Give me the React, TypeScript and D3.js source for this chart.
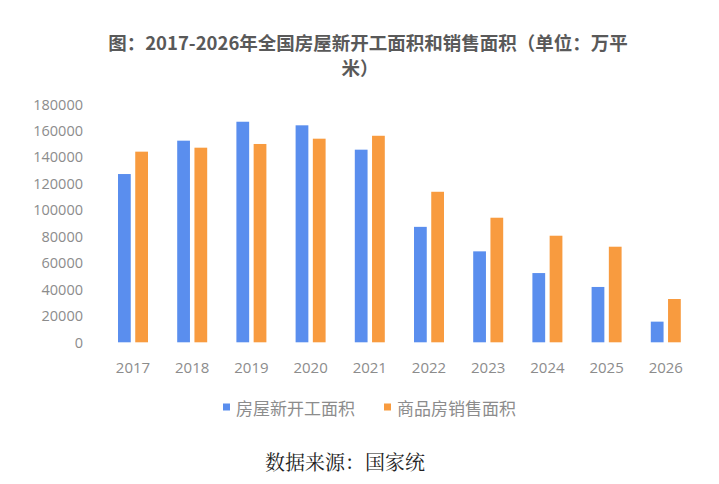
import * as d3 from 'd3';

const years = ['2017', '2018', '2019', '2020', '2021', '2022', '2023', '2024', '2025', '2026'];
const seriesNames = ['房屋新开工面积', '商品房销售面积'];
const newStarts = [127100, 152300, 166600, 163900, 145500, 87200, 68700, 52300, 41800, 15600];
const sales = [144000, 147000, 149800, 153800, 156000, 113700, 94100, 80500, 72200, 32700];
const yTicks = [0, 20000, 40000, 60000, 80000, 100000, 120000, 140000, 160000, 180000];
const colors = ['#5a8eee', '#f89b3f'];

const W = 719;
const H = 484;

const App = () => {
  const x = d3.scaleBand<string>().domain(years).range([103.4, 695.4]).padding(0);
  const xInner = d3.scaleBand<string>().domain(seriesNames).range([-15, 15]).paddingInner(0.26);
  const y = d3.scaleLinear().domain([0, 180000]).range([342.3, 104]);

  const values = [newStarts, sales];
  const labelFont = '"Open Sans", "Noto Sans", sans-serif';
  const cjk = '"Noto Sans CJK SC", sans-serif';

  return (
    <svg width={W} height={H} style={{ position: 'absolute', left: 0, top: 0, background: '#fff' }}>
      {/* 标题 */}
      <text x={368} y={42} textAnchor="middle" dominantBaseline="central"
        fontFamily={cjk} fontWeight={700} fontSize={18.5} fill="#595959">
        图：2017-2026年全国房屋新开工面积和销售面积（单位：万平
      </text>
      <text x={360} y={67} textAnchor="middle" dominantBaseline="central"
        fontFamily={cjk} fontWeight={700} fontSize={18.5} fill="#595959">
        米）
      </text>

      {/* y 轴 */}
      {yTicks.map(t => (
        <text key={t} x={83} y={y(t)} textAnchor="end" dominantBaseline="central"
          fontFamily={labelFont} fontSize={14.5} fill="#8c8c8c">
          {t}
        </text>
      ))}

      {/* 柱子 */}
      {years.map((yr, i) => (
        <g key={yr} transform={`translate(${x(yr)! + x.bandwidth() / 2},0)`}>
          {seriesNames.map((s, j) => (
            <rect key={s} x={xInner(s)} width={xInner.bandwidth()}
              y={y(values[j][i])} height={y(0) - y(values[j][i])} fill={colors[j]} />
          ))}
          <text x={0} y={367} textAnchor="middle" dominantBaseline="central"
            fontFamily={labelFont} fontSize={15} fill="#8c8c8c">
            {yr}
          </text>
        </g>
      ))}

      {/* 图例 */}
      {seriesNames.map((s, j) => {
        const lx = j === 0 ? 223 : 384;
        return (
          <g key={s} transform={`translate(${lx},407)`}>
            <rect x={0} y={-3.5} width={7} height={7} fill={colors[j]} />
            <text x={13} y={0} dominantBaseline="central" fontFamily={cjk} fontSize={17} fill="#8c8c8c">
              {s}
            </text>
          </g>
        );
      })}

      {/* 数据来源 */}
      <text x={265} y={461} dominantBaseline="central"
        fontFamily='"Noto Serif CJK SC", "Noto Sans CJK SC", serif' fontSize={20} fill="#222">
        数据来源：国家统
      </text>
    </svg>
  );
};

export default App;
